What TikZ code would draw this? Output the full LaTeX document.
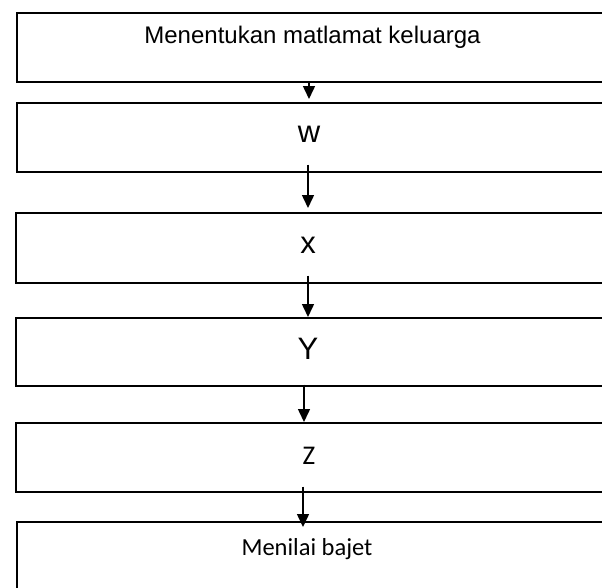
\documentclass[tikz,border=0pt]{standalone}
\usepackage{fontspec}
\setmainfont{Liberation Sans}
\newfontfamily\calfont{Carlito}
\usetikzlibrary{arrows.meta,calc}
\begin{document}
\begin{tikzpicture}[x=1pt,y=-1pt,
  box/.style={draw, rectangle, line width=1.5pt, minimum width=640pt,
    minimum height=#1, inner sep=0pt, anchor=north west},
  txt/.style={anchor=base, inner sep=0pt},
  ttl/.style={font=\fontsize{24}{28}\selectfont},
  big/.style={font=\fontsize{31}{34}\selectfont},
  cal/.style={font=\calfont\fontsize{#1}{#1}\selectfont},
  arr/.style={-{Triangle[width=12pt,length=13pt]}, line width=1.5pt}]
\useasboundingbox (0,0) rectangle (602,587);
\clip (0,0) rectangle (602,587);
\node[box=69pt] (b1) at (16,12) {};
\node[box=69pt] (b2) at (16,102) {};
\node[box=70pt] (b3) at (15,212) {};
\node[box=68pt] (b4) at (15,317) {};
\node[box=69pt] (b5) at (15,422) {};
\node[box=90pt] (b6) at (16,521) {};
\node[txt, ttl] (t1) at (312.5,43) {Menentukan matlamat keluarga};
\node[txt, big] (t2) at (309,142) {w};
\node[txt, big] (t3) at (308,253) {x};
\node[txt, big] (t4) at (308,359) {Y};
\node[txt, cal=27] (t5) at (309,464) {Z};
\node[txt, cal=24.5] (t6) at (307,555) {Menilai bajet};
\draw[arr] (b1.south -| 309,0) -- ($(b2.north -| 309,0)+(0,-3)$);
\draw[arr] ($(b2.south -| 308,0)+(0,-8)$) -- ($(b3.north -| 308,0)+(0,-4)$);
\draw[arr] ($(b3.south -| 308,0)+(0,-8)$) -- (b4.north -| 308,0);
\draw[arr] ($(b4.south -| 304,0)+(0,-2)$) -- (b5.north -| 304,0);
\draw[arr] ($(b5.south -| 303,0)+(0,-6)$) -- ($(b6.north -| 303,0)+(0,6)$);
\end{tikzpicture}
\end{document}
